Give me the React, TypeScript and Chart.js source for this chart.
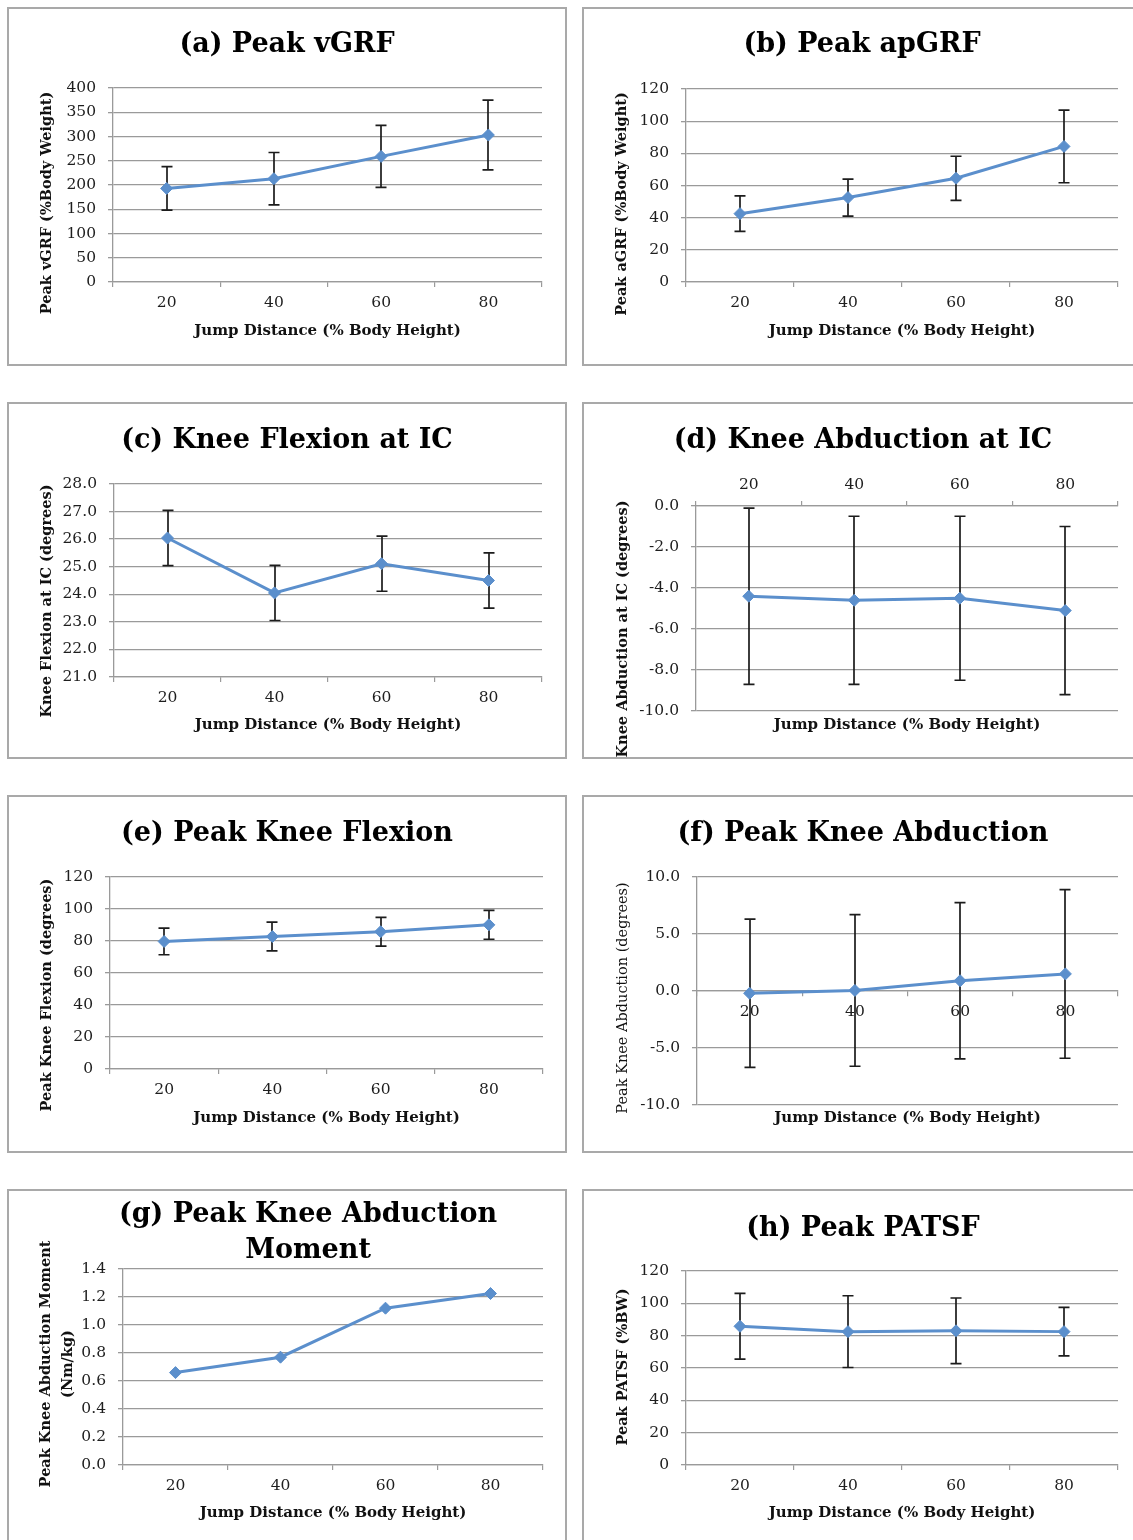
import React, { useEffect, useRef } from 'react';
import { Chart, registerables } from 'chart.js';

Chart.register(...registerables);

// ---------- data ----------
const jumpDistances = ['20', '40', '60', '80'];

const vgrfMean = [193, 213, 259, 303];
const vgrfSD = [45, 54, 64, 72];

const apgrfMean = [42.5, 52.5, 64.5, 84.3];
const apgrfSD = [11, 11.5, 13.7, 22.6];

const kneeFlexIcMean = [26.04, 24.05, 25.11, 24.5];
const kneeFlexIcSD = [1.0, 1.0, 1.0, 1.0];

const kneeAbdIcMean = [-4.4, -4.6, -4.5, -5.1];
const kneeAbdIcSD = [4.3, 4.1, 4.0, 4.1];

const peakFlexMean = [79.7, 82.8, 85.8, 90.1];
const peakFlexSD = [8.3, 9.0, 9.0, 9.0];

const peakAbdMean = [-0.2, 0.05, 0.9, 1.5];
const peakAbdSD = [6.5, 6.65, 6.85, 7.4];

const kamMean = [0.66, 0.77, 1.12, 1.225];

const patsfMean = [85.8, 82.5, 83.0, 82.5];
const patsfSD = [20.3, 22.2, 20.3, 15.0];

// y-axis tick settings [min, max, step, decimals]
const vgrfTicks = [0, 400, 50, 0];
const apgrfTicks = [0, 120, 20, 0];
const kneeFlexIcTicks = [21, 28, 1, 1];
const kneeAbdIcTicks = [-10, 0, 2, 1];
const peakFlexTicks = [0, 120, 20, 0];
const peakAbdTicks = [-10, 10, 5, 1];
const kamTicks = [0, 1.4, 0.2, 1];
const patsfTicks = [0, 120, 20, 0];

const X_TITLE = 'Jump Distance (% Body Height)';

// ---------- styles ----------
const FONT = "'DejaVu Serif', 'Liberation Serif', serif";
const LINE_COLOR = '#5B8FCC';
const GRID_COLOR = '#9a9a9a';
const BOX_BORDER = '#a9a9a9';
const TICK_COLOR = '#1e1e1e';

type Box = { x: number; y: number; w: number; h: number };
type Area = { left: number; right: number; top: number; bottom: number };

interface PanelSpec {
  id: string;
  title: string[];
  titleX: number;
  titleY: number[];
  yTitle: string[];
  yTitleX: number[];
  yTitleY: number;
  yTitleBold: boolean;
  xTitleY: number;
  box: Box;
  area: Area;
  xPos: 'bottom' | 'top' | 'zero';
  ticks: number[];
  values: number[];
  errors?: number[];
}

const panels: PanelSpec[] = [
  {
    id: 'a', title: ['(a) Peak vGRF'], titleX: 287, titleY: [45],
    yTitle: ['Peak vGRF (%Body Weight)'], yTitleX: [47], yTitleY: 203, yTitleBold: true,
    xTitleY: 331,
    box: { x: 7, y: 7, w: 560, h: 359 }, area: { left: 113, right: 542, top: 88, bottom: 282 },
    xPos: 'bottom', ticks: vgrfTicks, values: vgrfMean, errors: vgrfSD,
  },
  {
    id: 'b', title: ['(b) Peak apGRF'], titleX: 862, titleY: [45],
    yTitle: ['Peak aGRF (%Body Weight)'], yTitleX: [622], yTitleY: 204, yTitleBold: true,
    xTitleY: 331,
    box: { x: 582, y: 7, w: 560, h: 359 }, area: { left: 686, right: 1118, top: 89, bottom: 282 },
    xPos: 'bottom', ticks: apgrfTicks, values: apgrfMean, errors: apgrfSD,
  },
  {
    id: 'c', title: ['(c) Knee Flexion at IC'], titleX: 287, titleY: [441],
    yTitle: ['Knee Flexion at IC (degrees)'], yTitleX: [47], yTitleY: 601, yTitleBold: true,
    xTitleY: 725,
    box: { x: 7, y: 402, w: 560, h: 357 }, area: { left: 114, right: 542, top: 484, bottom: 677 },
    xPos: 'bottom', ticks: kneeFlexIcTicks, values: kneeFlexIcMean, errors: kneeFlexIcSD,
  },
  {
    id: 'd', title: ['(d) Knee Abduction at IC'], titleX: 863, titleY: [441],
    yTitle: ['Knee Abduction at IC (degrees)'], yTitleX: [623], yTitleY: 629, yTitleBold: true,
    xTitleY: 725,
    box: { x: 582, y: 402, w: 560, h: 357 }, area: { left: 696, right: 1118, top: 506, bottom: 711 },
    xPos: 'top', ticks: kneeAbdIcTicks, values: kneeAbdIcMean, errors: kneeAbdIcSD,
  },
  {
    id: 'e', title: ['(e) Peak Knee Flexion'], titleX: 287, titleY: [834],
    yTitle: ['Peak Knee Flexion (degrees)'], yTitleX: [47], yTitleY: 995, yTitleBold: true,
    xTitleY: 1118,
    box: { x: 7, y: 795, w: 560, h: 358 }, area: { left: 110, right: 543, top: 877, bottom: 1069 },
    xPos: 'bottom', ticks: peakFlexTicks, values: peakFlexMean, errors: peakFlexSD,
  },
  {
    id: 'f', title: ['(f) Peak Knee Abduction'], titleX: 863, titleY: [834],
    yTitle: ['Peak Knee Abduction (degrees)'], yTitleX: [623], yTitleY: 998, yTitleBold: false,
    xTitleY: 1118,
    box: { x: 582, y: 795, w: 560, h: 358 }, area: { left: 697, right: 1118, top: 877, bottom: 1105 },
    xPos: 'zero', ticks: peakAbdTicks, values: peakAbdMean, errors: peakAbdSD,
  },
  {
    id: 'g', title: ['(g) Peak Knee Abduction', 'Moment'], titleX: 308, titleY: [1215, 1251],
    yTitle: ['Peak Knee Abduction Moment', '(Nm/kg)'], yTitleX: [46, 68], yTitleY: 1364, yTitleBold: true,
    xTitleY: 1513,
    box: { x: 7, y: 1189, w: 560, h: 360 }, area: { left: 123, right: 543, top: 1269, bottom: 1465 },
    xPos: 'bottom', ticks: kamTicks, values: kamMean,
  },
  {
    id: 'h', title: ['(h) Peak PATSF'], titleX: 863, titleY: [1229],
    yTitle: ['Peak PATSF (%BW)'], yTitleX: [623], yTitleY: 1367, yTitleBold: true,
    xTitleY: 1513,
    box: { x: 582, y: 1189, w: 560, h: 360 }, area: { left: 686, right: 1118, top: 1271, bottom: 1465 },
    xPos: 'bottom', ticks: patsfTicks, values: patsfMean, errors: patsfSD,
  },
];

const X_AXIS_H = 40;

function buildConfig(p: PanelSpec): any {
  const { box, area } = p;
  const [yMin, yMax, yStep, yDec] = p.ticks;
  const ox = box.x;
  const oy = box.y;

  let padTop = area.top - oy;
  let padBottom = oy + box.h - area.bottom;
  if (p.xPos === 'bottom') padBottom -= X_AXIS_H;
  if (p.xPos === 'top') padTop -= X_AXIS_H;

  const errorBars = {
    id: 'errorBars' + p.id,
    beforeDatasetsDraw(chart: any) {
      const ctx = chart.ctx;
      const yScale = chart.scales.y;
      chart.data.datasets.forEach((ds: any, i: number) => {
        const errs: number[] | undefined = ds.errors;
        if (!errs) return;
        const meta = chart.getDatasetMeta(i);
        ctx.save();
        ctx.strokeStyle = '#1c1c1c';
        ctx.lineWidth = 1.7;
        meta.data.forEach((pt: any, j: number) => {
          const v = ds.data[j];
          const x = Math.round(pt.x);
          const yT = yScale.getPixelForValue(v + errs[j]);
          const yB = yScale.getPixelForValue(v - errs[j]);
          ctx.beginPath();
          ctx.moveTo(x, yT);
          ctx.lineTo(x, yB);
          ctx.moveTo(x - 5.5, yT);
          ctx.lineTo(x + 5.5, yT);
          ctx.moveTo(x - 5.5, yB);
          ctx.lineTo(x + 5.5, yB);
          ctx.stroke();
        });
        ctx.restore();
      });
    },
  };

  const panelText = {
    id: 'panelText' + p.id,
    afterDraw(chart: any) {
      const ctx = chart.ctx;
      ctx.save();
      ctx.fillStyle = '#000';
      ctx.textAlign = 'center';
      ctx.textBaseline = 'middle';
      // chart title
      ctx.font = `bold 27px ${FONT}`;
      p.title.forEach((t, i) => ctx.fillText(t, p.titleX - ox, p.titleY[i] - oy));
      // x title
      ctx.font = `bold 15px ${FONT}`;
      ctx.fillStyle = '#111';
      const ca = chart.chartArea;
      ctx.fillText(X_TITLE, (ca.left + ca.right) / 2, p.xTitleY - oy);
      // y title
      ctx.font = `${p.yTitleBold ? 'bold ' : ''}14.5px ${FONT}`;
      p.yTitle.forEach((t, i) => {
        ctx.save();
        ctx.translate(p.yTitleX[i] - ox, p.yTitleY - oy);
        ctx.rotate(-Math.PI / 2);
        ctx.fillText(t, 0, 0);
        ctx.restore();
      });
      ctx.restore();
    },
  };

  const xScale: any = {
    type: 'category',
    offset: true,
    position: p.xPos === 'zero' ? { y: 0 } : p.xPos,
    grid: {
      offset: true,
      drawOnChartArea: false,
      drawTicks: true,
      tickLength: 5,
      color: GRID_COLOR,
      lineWidth: 1.2,
    },
    border: { display: true, color: GRID_COLOR, width: 1.3 },
    ticks: {
      color: TICK_COLOR,
      font: { family: FONT, size: 15.5 },
      padding: 7,
      maxRotation: 0,
      autoSkip: false,
    },
    afterFit: (scale: any) => {
      scale.height = X_AXIS_H;
    },
  };

  const yScale: any = {
    type: 'linear',
    position: 'left',
    min: yMin,
    max: yMax,
    grid: {
      color: GRID_COLOR,
      lineWidth: 1.3,
      drawTicks: true,
      tickLength: 5,
    },
    border: { display: true, color: GRID_COLOR, width: 1.3 },
    ticks: {
      stepSize: yStep,
      color: TICK_COLOR,
      font: { family: FONT, size: 15.5 },
      padding: 12,
      callback: (v: any) => Number(v).toFixed(yDec),
    },
    afterFit: (scale: any) => {
      scale.width = area.left - ox;
    },
  };

  const dataset: any = {
    data: p.values,
    borderColor: LINE_COLOR,
    backgroundColor: LINE_COLOR,
    borderWidth: 3,
    pointStyle: 'rectRot',
    pointRadius: 6,
    pointBackgroundColor: LINE_COLOR,
    pointBorderColor: LINE_COLOR,
    pointBorderWidth: 1,
    tension: 0,
    fill: false,
    clip: false,
  };
  if (p.errors) dataset.errors = p.errors;

  return {
    type: 'line',
    data: { labels: jumpDistances, datasets: [dataset] },
    options: {
      responsive: false,
      animation: false,
      devicePixelRatio: 1,
      layout: {
        padding: { left: 0, top: padTop, right: ox + box.w - area.right, bottom: padBottom },
      },
      plugins: {
        legend: { display: false },
        title: { display: false },
        tooltip: { enabled: false },
      },
      scales: { x: xScale, y: yScale },
    },
    plugins: [errorBars, panelText],
  };
}

function PanelChart({ panel }: { panel: PanelSpec }) {
  const ref = useRef<HTMLCanvasElement | null>(null);
  useEffect(() => {
    if (!ref.current) return;
    const chart = new Chart(ref.current, buildConfig(panel));
    return () => chart.destroy();
  }, [panel]);
  const { box } = panel;
  return (
    <div
      style={{
        position: 'absolute',
        left: box.x,
        top: box.y,
        width: box.w,
        height: box.h,
        background: '#fff',
      }}
    >
      <canvas
        ref={ref}
        width={box.w}
        height={box.h}
        style={{ position: 'absolute', left: 0, top: 0, width: box.w, height: box.h }}
      />
      <div
        style={{
          position: 'absolute',
          left: 0,
          top: 0,
          width: box.w,
          height: box.h,
          boxSizing: 'border-box',
          border: `2px solid ${BOX_BORDER}`,
          pointerEvents: 'none',
        }}
      />
    </div>
  );
}

export default function App() {
  return (
    <div
      style={{
        position: 'absolute',
        left: 0,
        top: 0,
        width: 1133,
        height: 1540,
        overflow: 'hidden',
        background: '#fff',
      }}
    >
      {panels.map((p) => (
        <PanelChart key={p.id} panel={p} />
      ))}
    </div>
  );
}
